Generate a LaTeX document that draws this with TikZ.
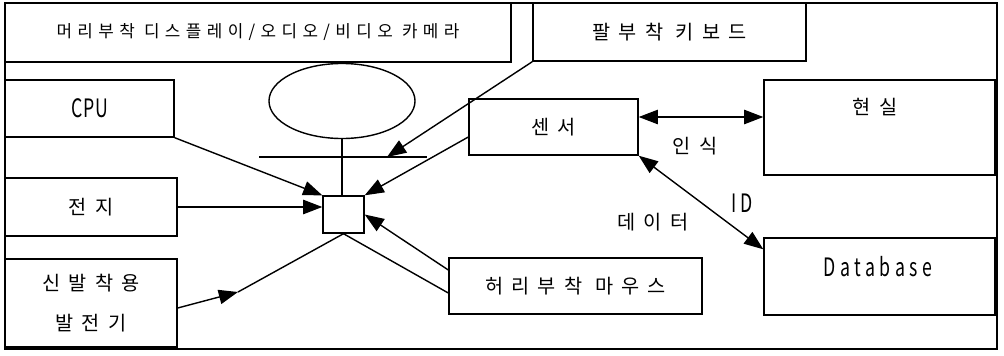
\documentclass[tikz,border=0pt]{standalone}
\usepackage{fontspec}
\setmainfont{Noto Sans CJK KR}
\usetikzlibrary{arrows.meta, shapes.geometric, positioning, calc}

\tikzset{
  box/.style={draw, line width=1pt, rectangle, inner sep=0pt},
  sz/.style 2 args={minimum width=#1*0.025cm, minimum height=#2*0.025cm},
  lbl/.style={font=\fontsize{14pt}{28.5pt}\selectfont\addfontfeatures{LetterSpace=#1}},
  lbl/.default=42,
  hdr/.style={font=\fontsize{12pt}{14pt}\selectfont\addfontfeatures{LetterSpace=32}},
  latin/.style={font=\fontsize{18pt}{20pt}\selectfont\addfontfeatures{FakeStretch=0.7,LetterSpace=#1}},
  latin/.default=18,
  con/.style={line width=1pt, -{Triangle[length=4.8mm,width=3.6mm]}},
  dbl/.style={line width=1pt, {Triangle[length=4.8mm,width=3.6mm]}-{Triangle[length=4.8mm,width=3.6mm]}},
  link/.style={line width=1pt},
}

\begin{document}
\begin{tikzpicture}[x=0.025cm, y=-0.025cm]
    \useasboundingbox (0,0) rectangle (1004,355);

    % outer frame
    \draw[line width=1.2pt] (5,3) rectangle (997,349);

    % boxes
    \node[box, hdr, sz={506}{59}] (head) at (258,32.5) {머리부착 디스플레이/오디오/비디오 카메라};
    \node[box, lbl, sz={273}{58}] (keys) at (669.5,32) {팔부착 키보드};
    \node[box, latin=3, sz={169}{57}] (cpu) at (89.5,108.5) {CPU};
    \node[box, lbl, sz={172}{58}] (bat) at (91,207) {전지};
    \node[box, lbl, align=center, sz={172}{88}] (gen) at (91,303) {신발착용\\발전기};
    \node[box, sz={41}{37}] (hub) at (343.5,214.5) {};
    \node[box, lbl, sz={169}{56}] (sensor) at (553.5,127) {센서};
    \node[box, lbl, sz={253}{56}] (mouse) at (575.5,286) {허리부착 마우스};
    \node[box, sz={231}{95}] (real) at (879.5,127.5) {};
    \node[box, sz={231}{77}] (db) at (879.5,276.5) {};
    \node[lbl] (realtxt) at (875,107) {현실};
    \node[latin] (dbtxt) at (878,267) {Database};

    % head unit
    \node[draw, line width=1pt, ellipse, minimum width=3.65cm, minimum height=1.875cm] (eye) at (342,101) {};
    \draw[link] (eye.south) -- (eye.south |- hub.north);
    \coordinate (barL) at (259,157);
    \coordinate (barR) at (427,157);
    \coordinate (barHit) at (387,157);
    \draw[link] (barL) -- (barR);

    % connectors
    \draw[con] (keys.south west) -- (barHit);
    \draw[con] (cpu.south east) -- (hub.north west);
    \draw[con] (bat.east) -- (bat.east -| hub.west);
    \draw[con] ($(sensor.west)+(0,10)$) -- (hub.north east);
    \draw[con] ($(mouse.west)+(0,-16)$) -- (hub.east);
    \draw[link] ($(mouse.west)+(0,7)$) -- (hub.south);
    \coordinate (genBend) at (238,292);
    \draw[con] ($(gen.east)+(0,5)$) -- (genBend);
    \draw[link] (genBend) -- (hub.south);

    \coordinate (senseOut) at ($(sensor.east)+(0,-10)$);
    \draw[dbl] (senseOut) -- (senseOut -| real.west);
    \draw[dbl] (sensor.south east) -- ($(db.north west)+(0,12)$);

    % link labels
    \node[lbl] (sense) at (695,146) {인식};
    \node[latin=16] (idlbl) at (742,203) {ID};
    \node[lbl] (data) at (653,222) {데이터};
\end{tikzpicture}
\end{document}
